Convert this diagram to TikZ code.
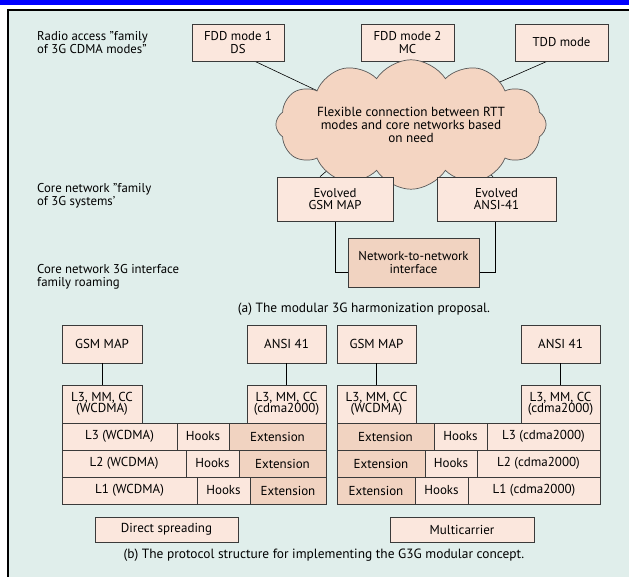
\documentclass[tikz,border=0pt]{standalone}
\usepackage{fontspec}
\setmainfont{PT Sans}
\usetikzlibrary{shapes.symbols,calc}
\definecolor{bg}{HTML}{E0EEEB}
\definecolor{boxfill}{HTML}{FBE7DD}
\definecolor{extfill}{HTML}{F1D3C1}
\definecolor{cloudfill}{HTML}{F4D5C2}
\definecolor{edge}{HTML}{3A3A3A}
\definecolor{topblue}{HTML}{0000FF}
\pgfdeclarelayer{back}
\pgfdeclarelayer{lines}
\pgfsetlayers{back,lines,main}
\newcommand\bx[7]{\node[box,fill=#6,minimum width={#4-#2},minimum height={#5-#3}] (#1) at ({(#2+#4)/2},{(#3+#5)/2}) {#7};}
\begin{document}
\begin{tikzpicture}[x=1pt,y=-1pt,
  box/.style={draw=edge, line width=0.7pt, inner sep=1pt, align=center,
    font=\fontsize{12.8}{12.8}\selectfont},
  lbl/.style={anchor=west, align=left, inner sep=0pt,
    font=\fontsize{12.8}{13.5}\selectfont},
  captext/.style={inner sep=0pt, font=\fontsize{13.4}{13.4}\selectfont},
  conn/.style={draw=black, line width=0.6pt}]
\useasboundingbox (0,0) rectangle (629,577);
\begin{pgfonlayer}{back}
  \fill[white] (0,0) rectangle (629,577);
  \fill[topblue] (0,0) rectangle (629,5);
  \fill[bg] (8,11) rectangle (629,577);
  \draw[black, line width=2pt] (7.5,577) -- (7.5,10) -- (629,10);
\end{pgfonlayer}

% ---- part (a) ----
\node[lbl] (lradio) at (37,42.5) {Radio access "family\\of 3G CDMA modes"};
\node[lbl] (lcore1) at (37,196) {Core network "family\\of 3G systems'};
\node[lbl] (lcore2) at (37,277) {Core network 3G interface\\family roaming};

\bx{fdd1}{192}{24}{284}{61}{boxfill}{FDD mode 1\\DS}
\bx{fdd2}{361}{24}{454}{61}{boxfill}{FDD mode 2\\MC}
\bx{tdd}{515}{24}{608}{61}{boxfill}{TDD mode}

\node[cloud, cloud puffs=12, cloud puff arc=115, aspect=2.8,
  draw=edge!85, line width=0.7pt, fill=cloudfill, inner sep=0pt,
  minimum width=237pt, minimum height=85pt, align=center,
  font=\fontsize{13.2}{13}\selectfont] (cloud) at (411,124.5)
  {Flexible connection between RTT\\modes and core networks based\\on need};

\bx{egsm}{277}{177}{393}{221}{boxfill}{Evolved\\GSM MAP}
\bx{eansi}{437}{177}{556}{221}{boxfill}{Evolved\\ANSI-41}
\bx{nni}{348}{238}{479}{287}{extfill}{Network-to-network\\interface}

\node[captext] (capa) at (364,309) {(a) The modular 3G harmonization proposal.};

\begin{pgfonlayer}{lines}
  \draw[conn] ([xshift=17pt]fdd1.south) -- ($(cloud.center)+(-88,-31)$);
  \draw[conn] (fdd2.south) -- ($(cloud.center)+(-4,-40)$);
  \draw[conn] ([xshift=-14.5pt]tdd.south) -- ($(cloud.center)+(74,-36)$);
  \draw[conn] ([xshift=-15pt]egsm.north) -- ($(cloud.center)+(-64,29)$);
  \draw[conn] ([xshift=-3.5pt]eansi.north) -- ($(cloud.center)+(57,29)$);
  \draw[conn] (egsm.south) |- ([yshift=-9.5pt]nni.west);
  \draw[conn] ([xshift=-1.5pt]eansi.south) |- ([yshift=-9.5pt]nni.east);
\end{pgfonlayer}

\begin{scope}[box/.append style={font=\fontsize{13}{11.5}\selectfont}]
% ---- part (b) left ----
\bx{gsml}{62}{325}{142}{363}{boxfill}{GSM MAP}
\bx{ansil}{247}{325}{326}{363}{boxfill}{ANSI 41}
\bx{mmwl}{62}{385}{142}{423}{boxfill}{L3, MM, CC\\(WCDMA)}
\bx{mmcl}{247}{385}{326}{423}{boxfill}{L3, MM, CC\\(cdma2000)}
\bx{l3wl}{62}{423}{177}{450}{boxfill}{L3 (WCDMA)}
\bx{l3hl}{177}{423}{229}{450}{boxfill}{Hooks}
\bx{l3el}{229}{423}{326}{450}{extfill}{Extension}
\bx{l2wl}{62}{450}{186}{477}{boxfill}{L2 (WCDMA)}
\bx{l2hl}{186}{450}{239}{477}{boxfill}{Hooks}
\bx{l2el}{239}{450}{326}{477}{extfill}{Extension}
\bx{l1wl}{62}{477}{197}{504}{boxfill}{L1 (WCDMA)}
\bx{l1hl}{197}{477}{250}{504}{boxfill}{Hooks}
\bx{l1el}{250}{477}{326}{504}{extfill}{Extension}
\bx{dsp}{95}{517}{238}{542}{boxfill}{Direct spreading}

% ---- part (b) right ----
\bx{gsmr}{337}{325}{416}{363}{boxfill}{GSM MAP}
\bx{ansir}{521}{325}{600}{363}{boxfill}{ANSI 41}
\bx{mmwr}{337}{385}{416}{423}{boxfill}{L3, MM, CC\\(WCDMA)}
\bx{mmcr}{521}{385}{600}{423}{boxfill}{L3, MM, CC\\(cdma2000)}
\bx{l3er}{337}{423}{434}{450}{extfill}{Extension}
\bx{l3hr}{434}{423}{487}{450}{boxfill}{Hooks}
\bx{l3cr}{487}{423}{600}{450}{boxfill}{L3 (cdma2000)}
\bx{l2er}{337}{450}{425}{477}{extfill}{Extension}
\bx{l2hr}{425}{450}{477}{477}{boxfill}{Hooks}
\bx{l2cr}{477}{450}{600}{477}{boxfill}{L2 (cdma2000)}
\bx{l1er}{337}{477}{415}{504}{extfill}{Extension}
\bx{l1hr}{415}{477}{468}{504}{boxfill}{Hooks}
\bx{l1cr}{468}{477}{600}{504}{boxfill}{L1 (cdma2000)}
\bx{mcar}{390}{517}{534}{542}{boxfill}{Multicarrier}
\end{scope}

\draw[conn] (gsml.south) -- (mmwl.north);
\draw[conn] (ansil.south) -- (mmcl.north);
\draw[conn] (gsmr.south) -- (mmwr.north);
\draw[conn] (ansir.south) -- (mmcr.north);

\node[captext] (capb) at (324,555) {(b) The protocol structure for implementing the G3G modular concept.};
\end{tikzpicture}
\end{document}
